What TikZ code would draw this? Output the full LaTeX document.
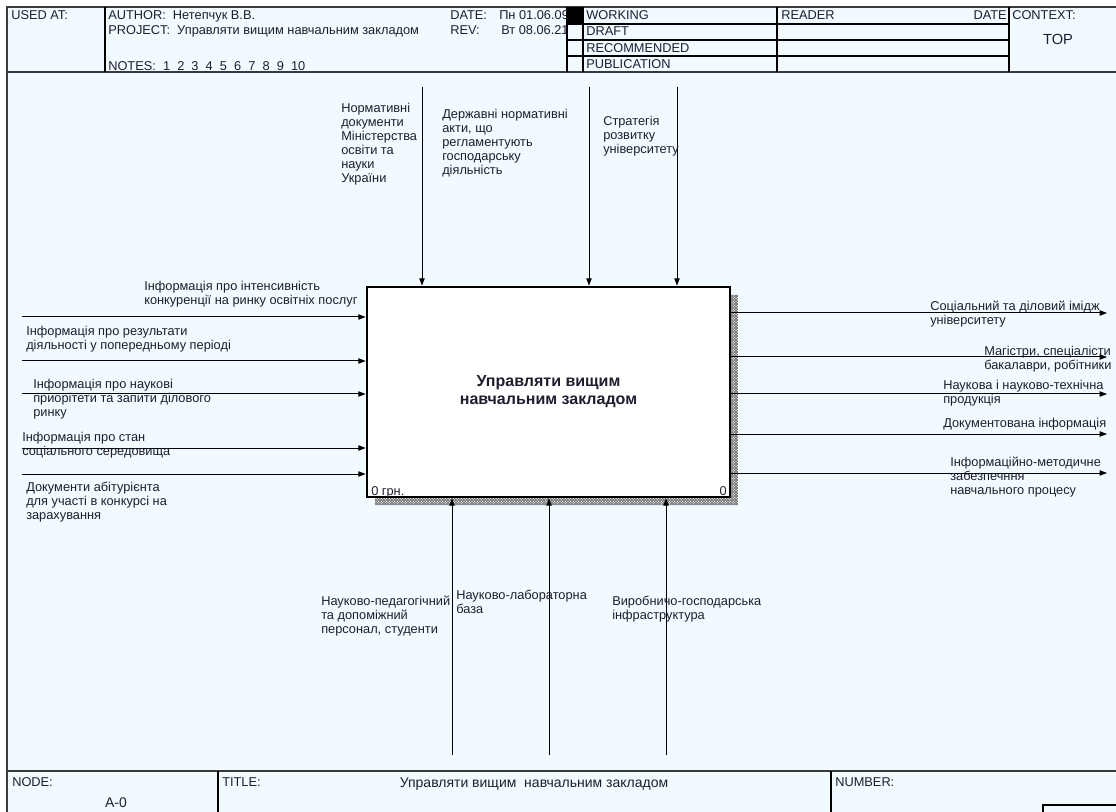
\documentclass[tikz,border=0pt]{standalone}
\usepackage{fontspec}
\setmainfont{Liberation Sans}
\usetikzlibrary{arrows.meta,patterns.meta}
\definecolor{bg}{HTML}{F0FAFF}
\definecolor{txt}{HTML}{1E1E2E}
\definecolor{frm}{HTML}{3A3A3A}
\tikzdeclarepattern{
  name=idefhatch,
  type=uncolored,
  bottom left={(-0.1pt,-0.1pt)},
  top right={(2.1pt,2.1pt)},
  tile size={(2pt,2pt)},
  code={
    \draw[line width=0.45pt] (0pt,0pt) -- (2pt,2pt);
    \draw[line width=0.45pt] (0pt,2pt) -- (2pt,0pt);
  }
}
\begin{document}
\begin{tikzpicture}[x=0.75pt,y=-0.75pt,
  lbl/.style={font=\fontsize{9.6}{10.5}\selectfont, align=left, inner sep=0pt, anchor=base west, text=txt},
  hdr/.style={font=\fontsize{9.6}{10.5}\selectfont, inner sep=0pt, anchor=base west, text=txt},
  arr/.style={line width=0.75pt, draw=black, -{Triangle[length=5.5pt,width=4pt]}},
  frame/.style={line width=1pt, draw=frm},
  cell/.style={line width=0.8pt, draw=black}]
\useasboundingbox (0,0) rectangle (1116,812);
\fill[white] (0,0) rectangle (1116,812);
\fill[bg] (7,7) rectangle (1116,812);

% ---------- header ----------
\draw[frame] (7,812) -- (7,7) -- (1116,7);
\draw[frame] (7,72) -- (1116,72);
\draw[cell] (105,7) -- (105,72);
\draw[cell] (567,7) -- (567,72);
\draw[cell] (583,7) -- (583,72);
\draw[cell] (777,7) -- (777,72);
\draw[cell] (1009,7) -- (1009,72);
\draw[cell] (567,24) -- (1009,24);
\draw[cell] (567,40) -- (1009,40);
\draw[cell] (567,56) -- (1009,56);

\node[hdr] (usedat) at (11,20) {USED AT:};
\node[hdr] (author) at (108,20) {AUTHOR:\ \ Нетепчук В.В.};
\node[hdr] (project) at (108,35) {PROJECT:\ \ Управляти вищим навчальним закладом};
\node[hdr] (notes) at (108,70.5) {NOTES:\ \ 1\ \ 2\ \ 3\ \ 4\ \ 5\ \ 6\ \ 7\ \ 8\ \ 9\ \ 10};
\begin{scope}
\clip (440,7) rectangle (567,72);
\node[hdr] (datel) at (450,20) {DATE:};
\node[hdr] (datev) at (499,20) {Пн 01.06.09};
\node[hdr] (revl) at (450,35) {REV:};
\node[hdr] (revv) at (501,35) {Вт 08.06.21};
\end{scope}
\fill[black] (567,7) rectangle (583,24);
\node[hdr] (working) at (586,20) {WORKING};
\node[hdr] (draft) at (586,36) {DRAFT};
\node[hdr] (recom) at (586,52.5) {RECOMMENDED};
\node[hdr] (publ) at (586,69) {PUBLICATION};
\node[hdr] (reader) at (781,20) {READER};
\node[hdr, anchor=base east] (rdate) at (1007,20) {DATE};
\node[hdr] (context) at (1012,20) {CONTEXT:};
\node[inner sep=0pt, text=txt, font=\fontsize{11}{12}\selectfont] (top) at (1058,39) {TOP};

% ---------- footer ----------
\draw[frame] (7,771) -- (1116,771);
\draw[cell] (218,771) -- (218,812);
\draw[cell] (831,771) -- (831,812);
\draw[cell] (1043,812) -- (1043,805) -- (1116,805);
\node[hdr] (nodel) at (12,786) {NODE:};
\node[hdr] (titlel) at (222,786) {TITLE:};
\node[hdr] (numberl) at (835,786) {NUMBER:};
\node[inner sep=0pt, text=txt, font=\fontsize{10.5}{12}\selectfont] (ftitle) at (534,784) {Управляти вищим\ \ навчальним закладом};
\node[inner sep=0pt, text=txt, font=\fontsize{10.5}{12}\selectfont] (nodeval) at (116,803) {A-0};

% ---------- activity box ----------
\fill[white] (731,295) -- (738,295) -- (738,505) -- (375,505) -- (375,497) -- (731,497) -- cycle;
\fill[pattern={idefhatch}, pattern color=black!60] (731,295) -- (738,295) -- (738,505) -- (375,505) -- (375,497) -- (731,497) -- cycle;
\node[draw=black, line width=2pt, fill=white, minimum width=272.25pt, minimum height=157.5pt, inner sep=0pt,
      font=\bfseries\fontsize{12}{13.5}\selectfont, align=center, text=txt] (box) at (548.5,392) {Управляти вищим\\навчальним закладом};
\node[hdr] (cost) at (371,495) {0 грн.};
\node[hdr, anchor=base east] (num) at (727,495) {0};

% ---------- inputs ----------
\coordinate (i1) at (22,317);
\coordinate (i2) at (22,361);
\coordinate (i3) at (22,394);
\coordinate (i4) at (22,448);
\coordinate (i5) at (22,474);
\foreach \c in {i1,i2,i3,i4,i5} \draw[arr] (\c) -- (\c -| box.west);
% (anchor = baseline of the last line)
\node[lbl] (li1) at (144,304.5) {Інформація про інтенсивність\\конкуренції на ринку освітніх послуг};
\node[lbl] (li2) at (26,349.5) {Інформація про результати\\діяльності у попередньому періоді};
\node[lbl] (li3) at (33,416.5) {Інформація про наукові\\приорітети та запити ділового\\ринку};
\node[lbl] (li4) at (22,455.5) {Інформація про стан\\соціального середовища};
\node[lbl] (li5) at (26,519.5) {Документи абітурієнта\\для участі в конкурсі на\\зарахування};

% ---------- controls ----------
\coordinate (c1) at (422,87);
\coordinate (c2) at (589,87);
\coordinate (c3) at (677,87);
\foreach \c in {c1,c2,c3} \draw[arr] (\c) -- (\c |- box.north);
\node[lbl] (lc1) at (341,182.5) {Нормативні\\документи\\Міністерства\\освіти та\\науки\\України};
\node[lbl] (lc2) at (442,174.5) {Державні нормативні\\акти, що\\регламентують\\господарську\\діяльність};
\node[lbl] (lc3) at (603,153.5) {Стратегія\\розвитку\\університету};

% ---------- outputs ----------
\coordinate (o1) at (1107,313);
\coordinate (o2) at (1107,357);
\coordinate (o3) at (1107,394);
\coordinate (o4) at (1107,434);
\coordinate (o5) at (1107,473);
\foreach \c in {o1,o2,o3,o4,o5} \draw[arr] (\c -| box.east) -- (\c);
\node[lbl] (lo1) at (930,324.5) {Соціальний та діловий імідж\\університету};
\node[lbl] (lo2) at (984,369.5) {Магістри, спеціалісти\\бакалаври, робітники};
\node[lbl] (lo3) at (943,403.5) {Наукова і науково-технічна\\продукція};
\node[lbl] (lo4) at (943,427.5) {Документована інформація};
\node[lbl] (lo5) at (950,494.5) {Інформаційно-методичне\\забезпечння\\навчального процесу};

% ---------- mechanisms ----------
\coordinate (m1) at (452,755);
\coordinate (m2) at (549,755);
\coordinate (m3) at (666,755);
\foreach \c in {m1,m2,m3} \draw[arr] (\c) -- (\c |- box.south);
\node[lbl] (lm1) at (321,633.5) {Науково-педагогічний\\та допоміжний\\персонал, студенти};
\node[lbl] (lm2) at (456,613.5) {Науково-лабораторна\\база};
\node[lbl] (lm3) at (612,619.5) {Виробничо-господарська\\інфраструктура};
\end{tikzpicture}
\end{document}
